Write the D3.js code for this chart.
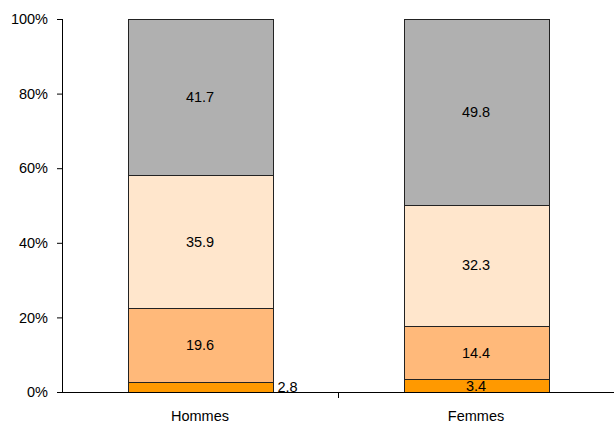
<!DOCTYPE html>
<html><head><meta charset="utf-8">
<script src="https://cdn.jsdelivr.net/npm/d3@7"></script>
<style>body{margin:0;background:#fff}svg{display:block;font-family:"Liberation Sans",Arial,sans-serif}</style>
</head><body>
<svg id="c" width="614" height="423"></svg>
<script>
const categories = ["Hommes", "Femmes"];
const seriesNames = ["s1", "s2", "s3", "s4"];
const hommes = [2.8, 19.6, 35.9, 41.7];
const femmes = [3.4, 14.4, 32.3, 49.8];
const colors = ["#FF9900", "#FFB97A", "#FFE6CC", "#B0B0B0"];
const yTicks = [0, 0.2, 0.4, 0.6, 0.8, 1.0];

(function () {
const values = [hommes, femmes];
const svg = d3.select("#c");
const mLeft = 62, mRight = 614, mTop = 19, mBottom = 392;
const x = d3.scaleBand().domain(categories).range([mLeft, mRight]).paddingInner(0.475).paddingOuter(0.2375);
const y = d3.scaleLinear().domain([0, 1]).range([mBottom, mTop]);

// y axis
const ya = svg.append("g").attr("transform", `translate(${mLeft},0)`)
  .call(d3.axisLeft(y).tickValues(yTicks).tickFormat(d3.format(".0%")).tickSize(5).tickPadding(9));
ya.select(".domain").attr("stroke", "#000").attr("d", `M0.5,${mTop}V${mBottom}`);
ya.selectAll(".tick line").attr("stroke", "#000");
ya.selectAll(".tick text").attr("font-size", "14.5px").attr("fill", "#000").attr("font-family", "Liberation Sans, Arial, sans-serif");

// bars
categories.forEach((cat, ci) => {
  const vals = values[ci];
  const total = d3.sum(vals);
  let cum = 0;
  vals.forEach((v, si) => {
    const y0 = cum / total, y1 = (cum + v) / total;
    cum += v;
    svg.append("rect")
      .attr("x", Math.round(x(cat)) + 0.5)
      .attr("y", Math.round(y(y1)) + 0.5)
      .attr("width", Math.round(x.bandwidth()))
      .attr("height", Math.round(y(y0)) - Math.round(y(y1)))
      .attr("fill", colors[si]).attr("stroke", "#222").attr("stroke-width", 1);
    const outside = (ci === 0 && si === 0);
    svg.append("text")
      .attr("x", outside ? x(cat) + x.bandwidth() + 5 : x(cat) + x.bandwidth() / 2)
      .attr("y", (y(y0) + y(y1)) / 2)
      .attr("dy", "0.36em")
      .attr("text-anchor", outside ? "start" : "middle")
      .attr("font-size", "14.5px").attr("fill", "#000")
      .text(d3.format(".1f")(v));
  });
});

// x axis
const xa = svg.append("g").attr("transform", `translate(0,${mBottom})`);
xa.append("line").attr("x1", mLeft).attr("x2", mRight).attr("y1", 0.5).attr("y2", 0.5).attr("stroke", "#000");
const mid = (x(categories[0]) + x.bandwidth() / 2 + x(categories[1]) + x.bandwidth() / 2) / 2;
xa.append("line").attr("x1", Math.round(mid) + 0.5).attr("x2", Math.round(mid) + 0.5).attr("y1", 0).attr("y2", 6).attr("stroke", "#000");
xa.selectAll("text.cat").data(categories).join("text")
  .attr("x", d => x(d) + x.bandwidth() / 2).attr("y", 29)
  .attr("text-anchor", "middle").attr("font-size", "14.5px").attr("fill", "#000")
  .text(d => d);
})();
</script>
</body></html>
